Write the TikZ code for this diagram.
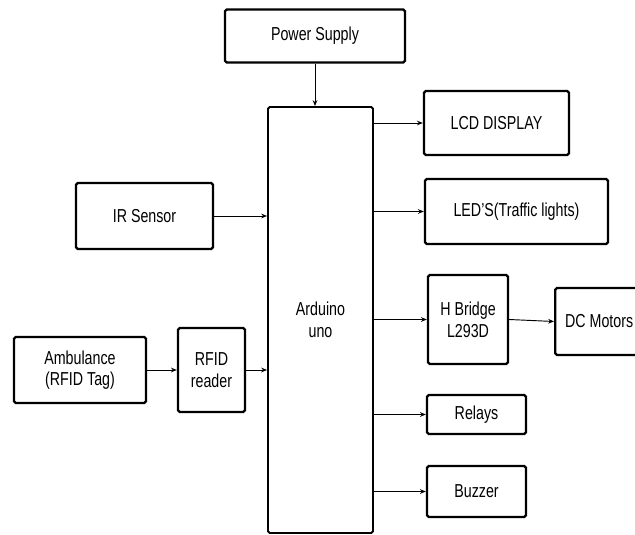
\documentclass[tikz,border=0pt]{standalone}
\usepackage{fontspec}
\setmainfont{Liberation Sans}[FakeStretch=0.76]
\usetikzlibrary{positioning, arrows.meta}

\begin{document}
\begin{tikzpicture}[
    x=0.03cm,
    y=-0.03cm,
    >={Stealth[length=5pt,width=4pt]},
    every node/.style={font=\fontsize{16}{18.5}\selectfont},
    block/.style={
        draw,
        line width=2pt,
        rounded corners=1.5pt,
        fill=white,
        align=center,
        inner sep=2pt,
    },
    link/.style={->, line width=0.8pt},
]

\useasboundingbox (0,0) rectangle (635,535);
\clip (0,0) rectangle (635,535);

% --- Blocks ---
\node[block, minimum width=180*0.03cm, minimum height=53*0.03cm]  (power)   at (315,36)    {Power Supply};
\node[block, line width=1.6pt, minimum width=105*0.03cm, minimum height=426*0.03cm] (arduino) at (320.5,320) {Arduino\\uno};
\node[block, minimum width=145*0.03cm, minimum height=64*0.03cm]  (lcd)     at (496.5,123) {LCD DISPLAY};
\node[block, minimum width=183*0.03cm, minimum height=65*0.03cm]  (leds)    at (516.5,211.5) {LED'S(Traffic lights)};
\node[block, minimum width=137*0.03cm, minimum height=66*0.03cm]  (ir)      at (144.5,216) {IR Sensor};
\node[block, minimum width=80*0.03cm,  minimum height=89*0.03cm]  (hbridge) at (468,319.5) {H Bridge\\L293D};
\node[block, minimum height=67*0.03cm, anchor=west, inner xsep=10*0.03cm] (dc) at (554,321.5) {DC Motors\hspace*{0.6cm}};
\node[block, minimum width=132*0.03cm, minimum height=66*0.03cm]  (amb)     at (80,370)    {Ambulance\\(RFID Tag)};
\node[block, minimum width=67*0.03cm,  minimum height=84*0.03cm]  (rfid)    at (211.5,370) {RFID\\reader};
\node[block, minimum width=99*0.03cm,  minimum height=39*0.03cm]  (relays)  at (476.5,414.5) {Relays};
\node[block, minimum width=99*0.03cm,  minimum height=51*0.03cm]  (buzzer)  at (476.5,491.5) {Buzzer};

% --- Connections ---
\draw[link] (power.south) -- (power.south |- arduino.north);
\draw[link] (ir.east) -- (ir.east -| arduino.west);
\draw[link] (amb.east) -- (rfid.west);
\draw[link] (rfid.east) -- (rfid.east -| arduino.west);
\foreach \target in {lcd, leds, hbridge, relays, buzzer}
    \draw[link] (arduino.east |- \target.west) -- (\target.west);
\draw[link] (hbridge.east) -- (dc.west);

\end{tikzpicture}
\end{document}
